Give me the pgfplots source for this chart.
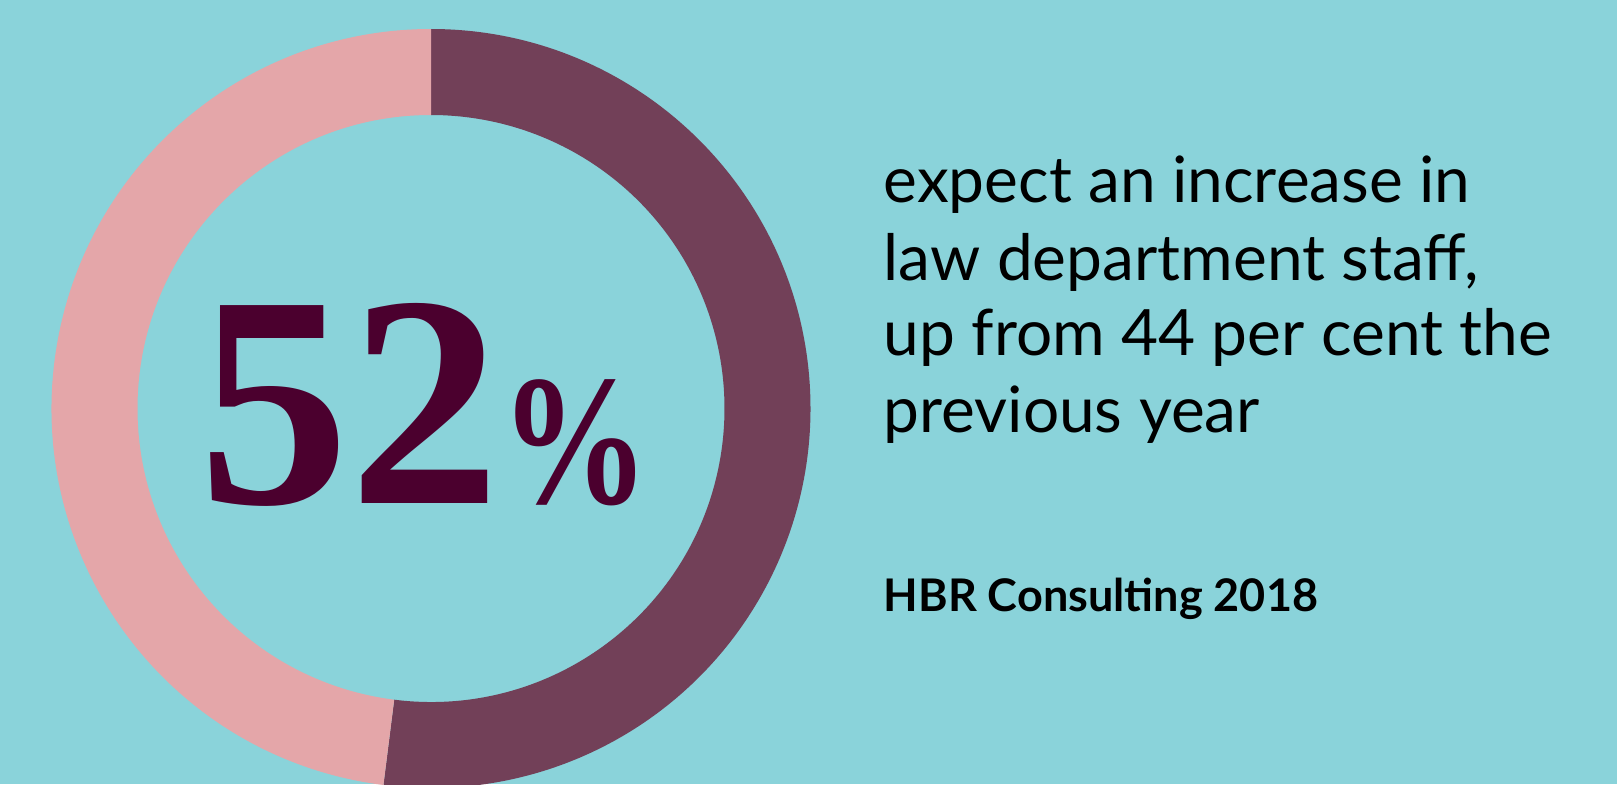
\documentclass[border=0pt]{standalone}
\usepackage{pgfplots}
\pgfplotsset{compat=1.18}
\usepackage{fontspec}
\setmainfont{Lato}
\newfontfamily\numfont{Liberation Serif}

\definecolor{bg}{HTML}{8AD3DA}
\definecolor{darkseg}{HTML}{724058}
\definecolor{lightseg}{HTML}{E4A6A9}
\definecolor{numc}{HTML}{4B002E}

% share of respondents expecting an increase
\pgfmathtruncatemacro\share{52}
\pgfmathsetmacro\split{90-3.6*\share}

\begin{document}
\begin{tikzpicture}
\begin{axis}[
    width=16.17cm, height=7.84cm, scale only axis,
    xmin=0, xmax=1617, ymin=0, ymax=784,
    hide axis, clip=true
]
    \fill[bg] (axis cs:0,0) rectangle (axis cs:1617,784);

    % donut: 1 axis unit = 0.01cm
    \fill[darkseg] ([shift={(90:3.795cm)}]axis cs:431,375.5)
        arc[start angle=90, end angle=\split, radius=3.795cm]
        -- ([shift={(\split:2.935cm)}]axis cs:431,375.5)
        arc[start angle=\split, end angle=90, radius=2.935cm] -- cycle;
    \fill[lightseg] ([shift={(\split:3.795cm)}]axis cs:431,375.5)
        arc[start angle=\split, end angle=-270, radius=3.795cm]
        -- ([shift={(90:2.935cm)}]axis cs:431,375.5)
        arc[start angle=90, end angle=360+\split, radius=2.935cm] -- cycle;

    \node[anchor=base west, inner sep=0, text=numc,
          font=\numfont\bfseries\fontsize{86}{86}\selectfont]
        at (axis cs:198,281)
        {\share{\fontsize{53}{53}\selectfont\scalebox{0.8}[1]{\%}}};

    \begin{scope}[every node/.style={anchor=base west, inner sep=0,
                  font=\fontsize{18.2}{21}\selectfont}]
        \node at (axis cs:883,582) {expect an increase in};
        \node at (axis cs:883,504) {law department staff,};
        \node at (axis cs:883,429) {up from 44 per cent the};
        \node at (axis cs:883,352) {previous year};
    \end{scope}
    \node[anchor=base west, inner sep=0,
          font=\bfseries\fontsize{12.8}{15}\selectfont]
        at (axis cs:883,173) {HBR Consulting 2018};
\end{axis}
\pgfresetboundingbox
\useasboundingbox (current axis.south west) rectangle (current axis.north east);
\end{tikzpicture}
\end{document}
